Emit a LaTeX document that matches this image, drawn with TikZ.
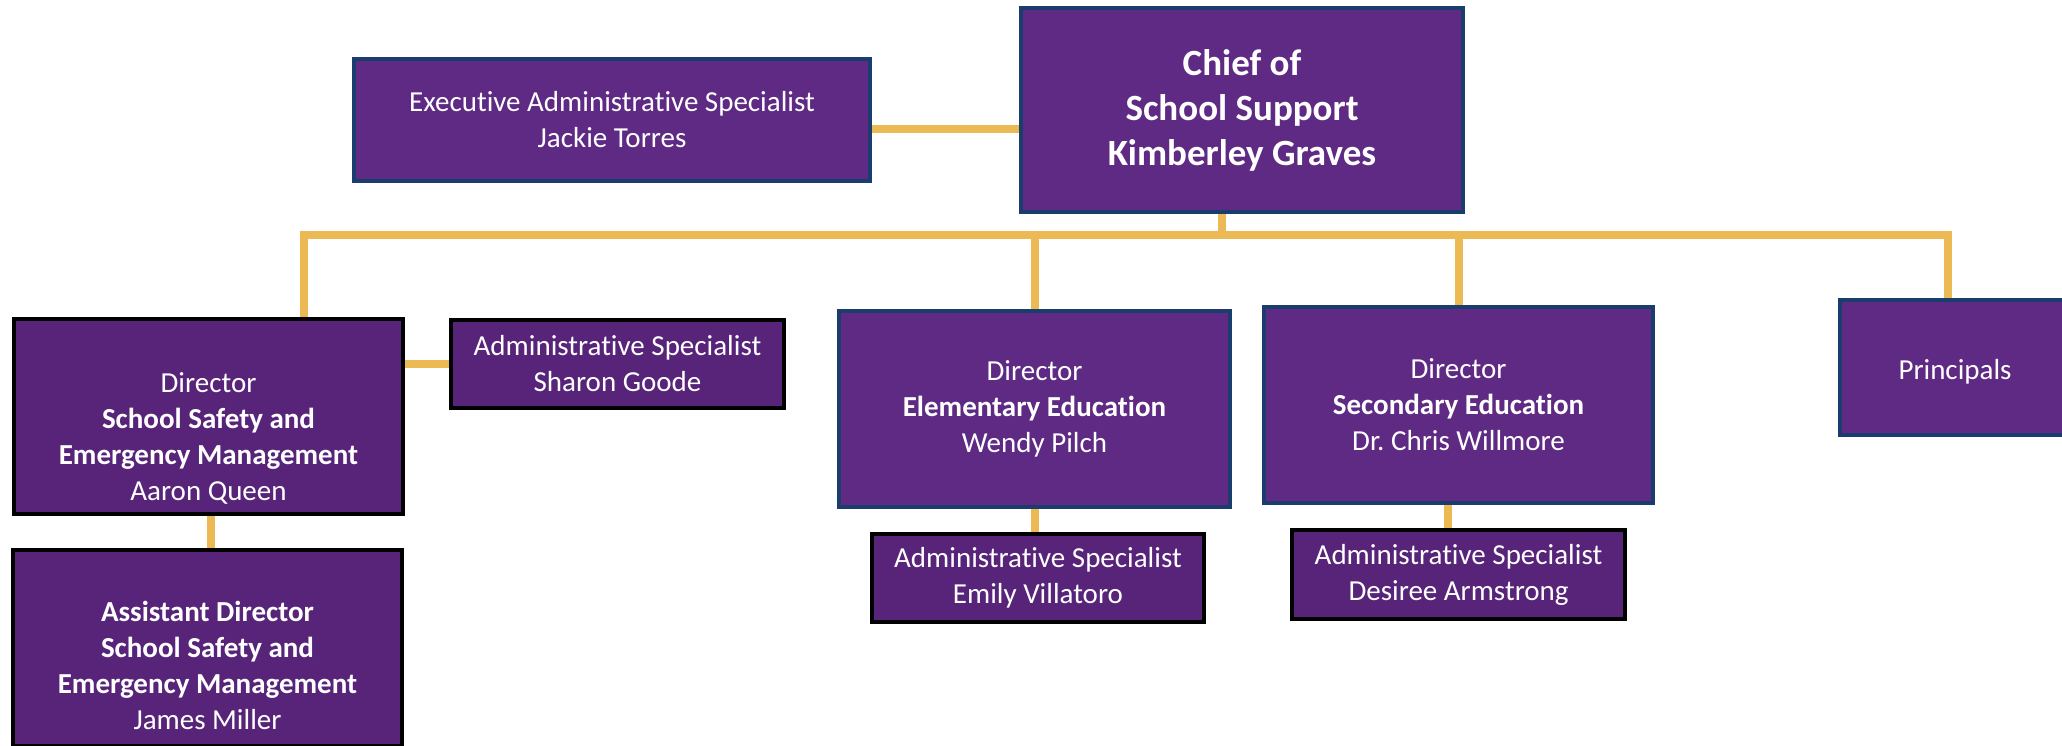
\documentclass[tikz,border=0pt]{standalone}
\usepackage{fontspec}
\setmainfont[Ligatures=NoCommon]{Carlito}
\usetikzlibrary{backgrounds}
\definecolor{orgpurple}{HTML}{5E2A84}
\definecolor{orgpurpledk}{HTML}{57247A}
\definecolor{orgblue}{HTML}{1B3D6E}
\definecolor{orggold}{HTML}{EBBA55}
\begin{document}
\begin{tikzpicture}[x=1pt,y=1pt,
	box/.style={draw=orgblue,fill=orgpurple,line width=4pt,text=white,align=center,inner sep=0pt,font=\fontsize{29}{36}\selectfont},
	subbox/.style={box,draw=black,fill=orgpurpledk},
	link/.style={draw=orggold,line width=8pt}]
		\useasboundingbox (0,0) rectangle (2062,-745);
		
		\node[box,minimum width=442,minimum height=204,font=\fontsize{37}{45}\selectfont\bfseries] (chief) at (1242,-110) {Chief of\\School Support\\Kimberley Graves};
		\node[box,minimum width=516,minimum height=122] (exec) at (612,-120) {Executive Administrative Specialist\\Jackie Torres};
		
		\node[subbox,minimum width=389,minimum height=195] (safety) at (208.5,-416.5) {\rule{0pt}{28pt}\\Director\\\textbf{School Safety and}\\\textbf{Emergency Management}\\Aaron Queen};
		\node[subbox,minimum width=333,minimum height=88] (sharon) at (617.5,-364) {Administrative Specialist\\Sharon Goode};
		\node[subbox,minimum width=389,minimum height=196] (asst) at (207.5,-648) {\rule{0pt}{20pt}\\\textbf{Assistant Director}\\\textbf{School Safety and}\\\textbf{Emergency Management}\\James Miller};
		
		\node[box,minimum width=391,minimum height=196] (elem) at (1034.5,-409) {Director\\\textbf{Elementary Education}\\Wendy Pilch};
		\node[subbox,minimum width=332,minimum height=88] (emily) at (1038,-578) {Administrative Specialist\\Emily Villatoro};
		
		\node[box,minimum width=389,minimum height=196] (second) at (1458.5,-405) {Director\\\textbf{Secondary Education}\\Dr.\ Chris Willmore};
		\node[subbox,minimum width=333,minimum height=89] (desiree) at (1458.5,-574.5) {Administrative Specialist\\Desiree Armstrong};
		
		\node[box,minimum width=230,minimum height=135] (princ) at (1955,-367.5) {\rule{0pt}{29pt}Principals};
		
		\coordinate (busL) at (304,-235); \coordinate (busR) at (1948,-235);
		
		\begin{scope}[on background layer]
		\draw[link] ([yshift=-9pt]exec.east) -- ([yshift=-9pt]exec.east -| chief.west);
		\draw[link] ([xshift=-20pt]chief.south) -- ([xshift=-20pt]chief.south |- busL);
		\draw[link,line cap=rect] (busL) -- (busR);
		\draw[link] (busL) -- (busL |- safety.north);
		\draw[link] (elem.north) -- (elem.north |- busL);
		\draw[link] (second.north) -- (second.north |- busL);
		\draw[link] (busR) -- (busR |- princ.north);
		\draw[link] (sharon.west) -- (sharon.west -| safety.east);
		\draw[link] ([xshift=2pt]safety.south) -- ([xshift=2pt]safety.south |- asst.north);
		\draw[link] (elem.south) -- (elem.south |- emily.north);
		\draw[link] ([xshift=-11pt]second.south) -- ([xshift=-11pt]second.south |- desiree.north);
		\end{scope}
\end{tikzpicture}
\end{document}
